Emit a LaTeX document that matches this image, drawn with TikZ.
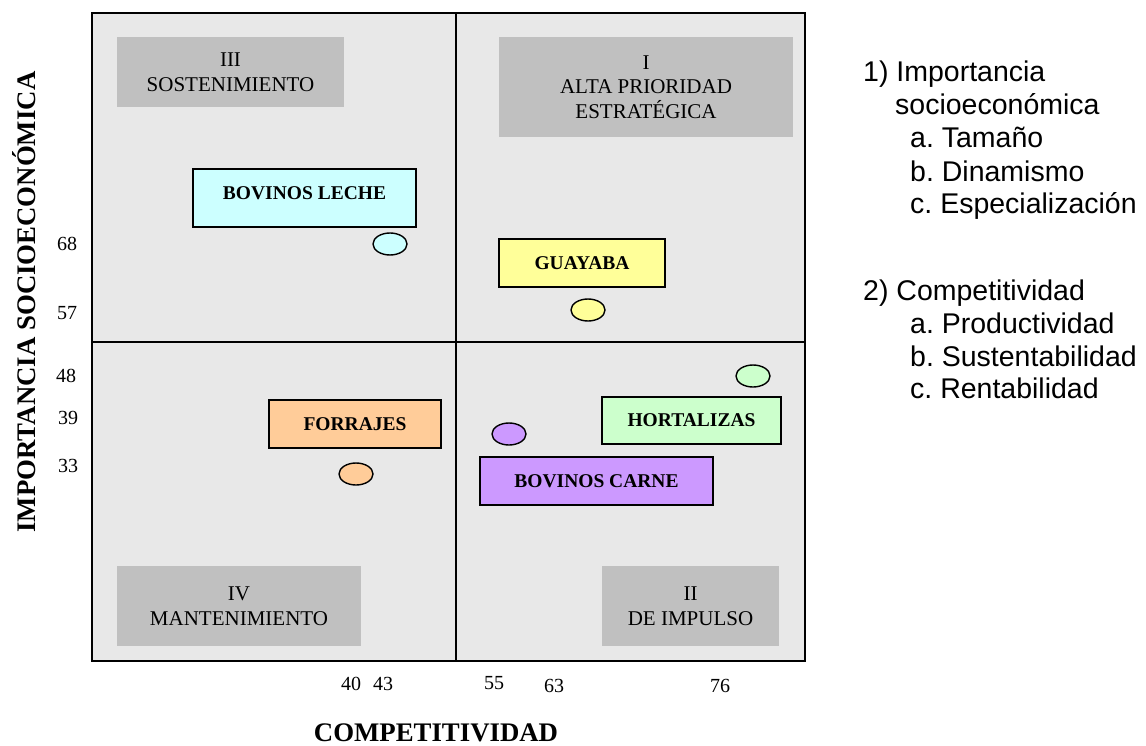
\documentclass[tikz,border=0pt]{standalone}
\usepackage{fontspec}
\setmainfont{Liberation Serif}
\newfontfamily\legendfont{Liberation Sans}
\usetikzlibrary{shapes.geometric}
\definecolor{plotbg}{HTML}{E8E8E8}
\definecolor{zonegray}{HTML}{C0C0C0}
\definecolor{lechecol}{HTML}{CCFFFF}
\definecolor{guayabacol}{HTML}{FFFF99}
\definecolor{forrajecol}{HTML}{FFCC99}
\definecolor{hortacol}{HTML}{CCFFCC}
\definecolor{carnecol}{HTML}{CC99FF}
\tikzset{
  zone/.style={fill=zonegray, inner sep=0pt, align=center,
    font=\fontsize{21}{24.5}\selectfont},
  cropbox/.style={draw, line width=1.5pt, inner sep=0pt,
    font=\fontsize{19.5}{22}\selectfont\bfseries},
  spot/.style={draw, ellipse, line width=1.4pt, minimum width=34pt,
    minimum height=22pt, inner sep=0pt},
  axisnum/.style={inner sep=0pt, font=\fontsize{20}{24}\selectfont},
  axistitle/.style={inner sep=0pt, anchor=base, font=\fontsize{26.8}{30}\selectfont\bfseries},
  legendline/.style={inner sep=0pt, anchor=base west,
    font=\legendfont\fontsize{28.5}{33}\selectfont},
}

\begin{document}
\begin{tikzpicture}[x=1pt,y=-1pt]
  \useasboundingbox (0,0) rectangle (1146,746);

  % Quadrant frame
  \fill[plotbg] (92,13) rectangle (805,661);
  \draw[line width=1.6pt] (92,13) rectangle (805,661);
  \draw[line width=1.6pt] (456,13) -- (456,661);
  \draw[line width=1.6pt] (92,342) -- (805,342);

  % Quadrant names
  \node[zone, minimum width=227pt, minimum height=70pt] (q3) at (230.5,72) {III\\SOSTENIMIENTO};
  \node[zone, minimum width=294pt, minimum height=100pt] (q1) at (646,87) {I\\ALTA PRIORIDAD\\ESTRAT\'EGICA};
  \node[zone, minimum width=244pt, minimum height=80pt] (q4) at (239,606) {IV\\MANTENIMIENTO};
  \node[zone, minimum width=177pt, minimum height=80pt] (q2) at (690.5,606) {II\\DE IMPULSO};

  % Products
  \node[cropbox, fill=lechecol, minimum width=223pt, minimum height=58pt, text depth=10pt] (leche) at (304.5,198) {BOVINOS LECHE};
  \node[cropbox, fill=guayabacol, minimum width=166pt, minimum height=48pt] (guayaba) at (582,263) {GUAYABA};
  \node[cropbox, fill=forrajecol, minimum width=172pt, minimum height=48pt] (forrajes) at (355,424) {FORRAJES};
  \node[cropbox, fill=hortacol, minimum width=179pt, minimum height=47pt] (hortalizas) at (691.5,420.5) {HORTALIZAS};
  \node[cropbox, fill=carnecol, minimum width=233pt, minimum height=48pt] (carne) at (596.5,481) {BOVINOS CARNE};

  \node[spot, fill=lechecol] (pleche) at (390,244) {};
  \node[spot, fill=guayabacol] (pguayaba) at (588,310) {};
  \node[spot, fill=forrajecol] (pforrajes) at (356,474) {};
  \node[spot, fill=hortacol] (phortalizas) at (753,376) {};
  \node[spot, fill=carnecol] (pcarne) at (509,434) {};

  % Axis values
  \node[axisnum] (y68) at (67,244) {68};
  \node[axisnum] (y57) at (67,313) {57};
  \node[axisnum] (y48) at (66,376) {48};
  \node[axisnum] (y39) at (68,418) {39};
  \node[axisnum] (y33) at (68,466) {33};
  \node[axisnum] (x40) at (351,684) {40};
  \node[axisnum] (x43) at (383,684) {43};
  \node[axisnum] (x55) at (494,683) {55};
  \node[axisnum] (x63) at (554,686) {63};
  \node[axisnum] (x76) at (720,686) {76};

  % Axis titles
  \node[axistitle, rotate=90] (ytitle) at (35,302) {IMPORTANCIA SOCIOECON\'OMICA};
  \node[axistitle] (xtitle) at (436,741.5) {COMPETITIVIDAD};

  % Legend
  \node[legendline] (l1) at (863,82) {1) Importancia};
  \node[legendline] (l1x) at (895,115) {socioecon\'omica};
  \node[legendline] (l1a) at (910,148) {a.\ Tama\~no};
  \node[legendline] (l1b) at (910,182) {b.\ Dinamismo};
  \node[legendline] (l1c) at (910,214) {c.\ Especializaci\'on};
  \node[legendline] (l2) at (863,300) {2) Competitividad};
  \node[legendline] (l2a) at (910,333) {a.\ Productividad};
  \node[legendline] (l2b) at (910,366) {b.\ Sustentabilidad};
  \node[legendline] (l2c) at (910,398) {c.\ Rentabilidad};
\end{tikzpicture}
\end{document}
